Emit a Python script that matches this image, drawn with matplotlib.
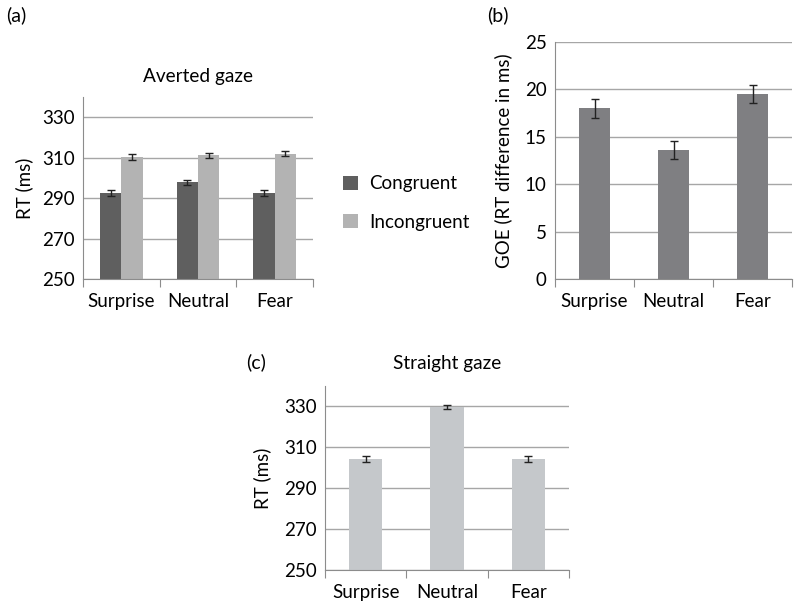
import matplotlib
matplotlib.use("Agg")
import matplotlib.pyplot as plt
import numpy as np

plt.rcParams['font.family'] = ['Lato', 'DejaVu Sans']

categories = ['Surprise', 'Neutral', 'Fear']

# (a) averted gaze
averted_congruent = [292.6, 297.8, 292.6]
averted_congruent_err = [1.5, 1.2, 1.6]
averted_incongruent = [310.4, 311.2, 312.0]
averted_incongruent_err = [1.4, 1.3, 1.2]

# (b) gaze-orienting effect
goe = [18.0, 13.6, 19.5]
goe_err = [0.97, 0.93, 0.95]

# (c) straight gaze
straight = [304.3, 329.8, 304.3]
straight_err = [1.5, 0.9, 1.5]

W, H = 800, 607
fig = plt.figure(figsize=(W / 100, H / 100), dpi=100)


def axes_px(left, top, right, bottom):
    return fig.add_axes([left / W, 1 - bottom / H, (right - left) / W, (bottom - top) / H])


def style(ax, ylim, yticks):
    x = np.arange(len(categories))
    ax.set_xlim(-0.5, len(categories) - 0.5)
    ax.set_ylim(*ylim)
    ax.set_yticks(yticks)
    ax.set_xticks(np.arange(len(categories) + 1) - 0.5)
    ax.set_xticklabels([])
    ax.set_xticks(x, minor=True)
    ax.set_xticklabels(categories, minor=True, fontsize=13.5)
    ax.tick_params(axis='x', which='major', length=6, color='#8c8c8c', direction='out')
    ax.tick_params(axis='x', which='minor', length=0, pad=10)
    ax.tick_params(axis='y', length=0, labelsize=13.5, pad=6)
    for s in ['top', 'right']:
        ax.spines[s].set_visible(False)
    for s in ['left', 'bottom']:
        ax.spines[s].set_color('#8c8c8c')
    ax.yaxis.grid(True, color='#a6a6a6', lw=1)
    ax.set_axisbelow(True)


err_kw = dict(ecolor='#222222', elinewidth=1, capsize=3, capthick=1)

# panel (a)
ax = axes_px(83, 97, 313, 279)
x = np.arange(len(categories))
bw = 0.28
ax.bar(x - bw / 2, averted_congruent, bw, yerr=averted_congruent_err,
       color='#5f5f5f', label='Congruent', error_kw=err_kw)
ax.bar(x + bw / 2, averted_incongruent, bw, yerr=averted_incongruent_err,
       color='#b3b3b3', label='Incongruent', error_kw=err_kw)
style(ax, (250, 340), [250, 270, 290, 310, 330])
ax.set_ylabel('RT (ms)', fontsize=13.5, labelpad=6)
ax.set_title('Averted gaze', fontsize=13.7, pad=11)
fig.legend(*ax.get_legend_handles_labels(), loc='center left',
           bbox_to_anchor=(326 / W, 1 - 203 / H), frameon=False,
           fontsize=13.5, handlelength=0.8, handleheight=0.8, labelspacing=1.15,
           handletextpad=0.6)
fig.text(6 / W, 1 - 15 / H, '(a)', fontsize=14, va='center')

# panel (b)
ax = axes_px(555, 42, 792, 279)
ax.bar(x, goe, 0.4, yerr=goe_err, color='#7f7f82', error_kw=err_kw)
style(ax, (0, 25), [0, 5, 10, 15, 20, 25])
ax.set_ylabel('GOE (RT difference in ms)', fontsize=13.5, labelpad=9)
fig.text(487 / W, 1 - 15 / H, '(b)', fontsize=14, va='center')

# panel (c)
ax = axes_px(325, 386, 569, 570)
ax.bar(x, straight, 0.41, yerr=straight_err, color='#c5c8cb', error_kw=err_kw)
style(ax, (250, 340), [250, 270, 290, 310, 330])
ax.set_ylabel('RT (ms)', fontsize=13.5, labelpad=9)
ax.set_title('Straight gaze', fontsize=13.7, pad=12)
fig.text(246 / W, 1 - 362 / H, '(c)', fontsize=14, va='center')

fig.savefig('out.png', dpi=100)
